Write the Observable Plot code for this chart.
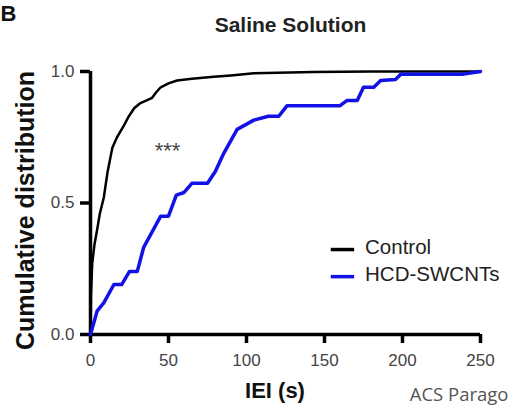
<!DOCTYPE html>
<html>
<head>
<meta charset="utf-8">
<script src="https://cdn.jsdelivr.net/npm/d3@7"></script>
<script src="https://cdn.jsdelivr.net/npm/@observablehq/plot@0.6"></script>
<style>
  html, body { margin: 0; padding: 0; background: white; overflow: hidden; }
</style>
</head>
<body>
<div id="chart"></div>
<script>
// Control (black) cumulative distribution
const controlX = [0, 0.3, 1.1, 2.5, 4.3, 6, 8.5, 11, 14, 17, 21, 24.6, 28, 32, 36, 39.5, 42, 45, 50, 55.5, 65, 79, 90, 104.7, 120, 143, 180, 250];
const controlY = [0, 0.15, 0.27, 0.34, 0.40, 0.46, 0.52, 0.62, 0.71, 0.75, 0.79, 0.83, 0.86, 0.88, 0.89, 0.90, 0.92, 0.94, 0.955, 0.966, 0.972, 0.98, 0.985, 0.993, 0.995, 0.998, 1.0, 1.0];
// HCD-SWCNTs (blue) cumulative distribution
const hcdX = [0, 4.3, 8.5, 15, 20, 25, 30, 34, 39.5, 45, 50, 55, 60, 65, 75, 80, 85.5, 94, 104.7, 114, 120.7, 126, 160, 164.5, 171, 175, 181.6, 186, 195.5, 199, 239, 250];
const hcdY = [0, 0.09, 0.12, 0.19, 0.19, 0.24, 0.24, 0.33, 0.39, 0.45, 0.45, 0.53, 0.54, 0.575, 0.575, 0.62, 0.69, 0.78, 0.815, 0.83, 0.83, 0.87, 0.87, 0.89, 0.89, 0.94, 0.94, 0.966, 0.97, 0.99, 0.99, 1.0];

const xTicks = [0, 50, 100, 150, 200, 250];
const yTicks = [0, 0.5, 1.0];
const seriesNames = ["Control", "HCD-SWCNTs"];
const seriesColors = ["#000000", "#1212e6"];
const legendY = [0.323, 0.22];
const title = "Saline Solution";
const xLabel = "IEI (s)";
const yLabel = "Cumulative distribution";
const panelLetter = "B";
const significance = "***";
const watermark = "ACS Parago";

const control = controlX.map((x, i) => ({x, y: controlY[i]}));
const hcd = hcdX.map((x, i) => ({x, y: hcdY[i]}));

// legend entries placed in data space (IEI, fraction)
const legend = seriesNames.map((name, i) => ({
  name, color: seriesColors[i], x1: 154, x2: 169, y: legendY[i]
}));

const font = "Liberation Sans, Arial, sans-serif";

const chart = Plot.plot({
  width: 508,
  height: 406,
  marginLeft: 90,
  marginRight: 28,
  marginTop: 71,
  marginBottom: 72,
  style: {fontFamily: font, background: "white", color: "black"},
  x: {domain: [0, 250]},
  y: {domain: [0, 1]},
  marks: [
    // axis lines
    Plot.ruleX([0], {stroke: "black", strokeWidth: 3.5, y1: 0, y2: 1}),
    Plot.ruleY([0], {stroke: "black", strokeWidth: 3.5}),
    // ticks
    Plot.axisY({ticks: yTicks, tickSize: 10, strokeWidth: 3.5, stroke: "black", text: null, label: null}),
    Plot.axisX({ticks: xTicks, tickSize: 9, strokeWidth: 3.5, stroke: "black", text: null, label: null}),
    // tick labels
    Plot.axisY({ticks: yTicks, tickSize: 0, tickPadding: 16, tickFormat: d3.format(".1f"), fontSize: 17, fill: "#444", label: null}),
    Plot.axisX({ticks: xTicks, tickSize: 0, tickPadding: 19, fontSize: 17, fill: "#444", label: null}),
    // series
    Plot.line(control, {x: "x", y: "y", stroke: seriesColors[0], strokeWidth: 2.5}),
    Plot.line(hcd, {x: "x", y: "y", stroke: seriesColors[1], strokeWidth: 3.5}),
    // annotation
    Plot.text([significance], {x: 49.4, y: 0.696, text: d => d, fontSize: 22, fill: "#444"}),
    // legend
    Plot.link(legend, {x1: "x1", x2: "x2", y1: "y", y2: "y", stroke: "color", strokeWidth: 3.5}),
    Plot.text(legend, {x: 176, y: "y", dy: -2, text: "name", textAnchor: "start", fontSize: 20.5, fill: "#222"}),
    // titles
    Plot.text([title], {frameAnchor: "top", dx: 5, dy: -46, lineAnchor: "middle", text: d => d, fontSize: 21, fontWeight: "bold", fill: "#222"}),
    Plot.text([xLabel], {frameAnchor: "bottom", dx: -10.5, dy: 56, lineAnchor: "middle", text: d => d, fontSize: 22, fontWeight: "bold", fill: "#111"}),
    Plot.text([yLabel], {frameAnchor: "left", dx: -65, dy: 7.5, rotate: -90, textAnchor: "middle", lineAnchor: "middle", text: d => d, fontSize: 25, fontWeight: "bold", fill: "#111"}),
    Plot.text([panelLetter], {frameAnchor: "top-left", dx: -90, dy: -58, textAnchor: "start", lineAnchor: "middle", text: d => d, fontSize: 22, fontWeight: "bold", fill: "#111"}),
    Plot.text([watermark], {frameAnchor: "bottom-right", dx: 28, dy: 61, textAnchor: "end", lineAnchor: "middle", text: d => d, fontSize: 18.5, fontFamily: "Open Sans", fill: "#555"})
  ]
});
document.getElementById("chart").appendChild(chart);
</script>
</body>
</html>
